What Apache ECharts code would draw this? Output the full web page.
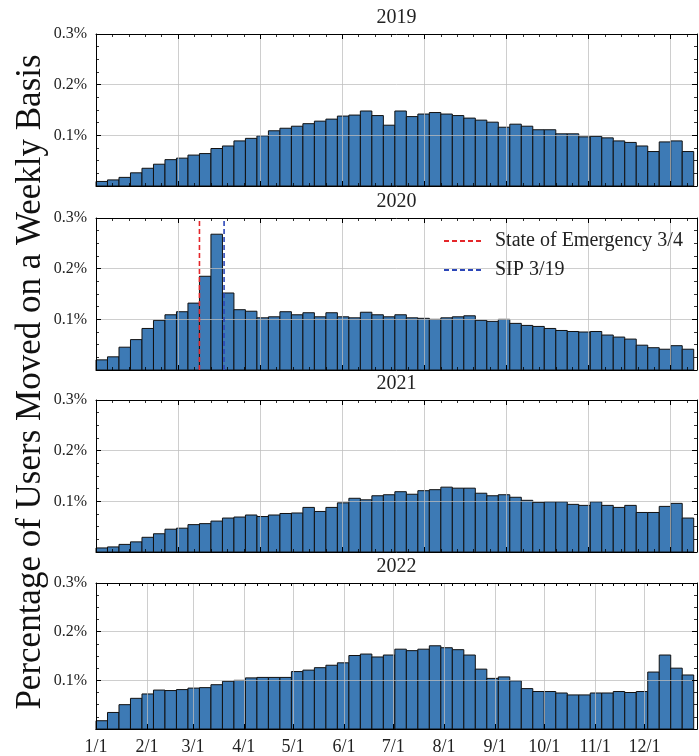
<!DOCTYPE html>
<html>
<head>
<meta charset="utf-8">
<script src="https://cdn.jsdelivr.net/npm/echarts@6/dist/echarts.min.js"></script>
<style>
  html, body { margin: 0; padding: 0; background: #ffffff; }
  #chart { width: 699px; height: 756px; }
</style>
</head>
<body>
<div id="chart"></div>
<script>
// Weekly share of users who moved (%), one bar per week starting Jan 1
const years = ['2019', '2020', '2021', '2022'];

const values2019 = [
  0.009, 0.012, 0.017, 0.026, 0.035, 0.043, 0.052, 0.055, 0.061, 0.064,
  0.074, 0.079, 0.089, 0.094, 0.099, 0.109, 0.114, 0.118, 0.123, 0.128,
  0.132, 0.138, 0.140, 0.148, 0.139, 0.120, 0.148, 0.137, 0.142, 0.145,
  0.142, 0.139, 0.134, 0.130, 0.126, 0.116, 0.122, 0.118, 0.111, 0.111,
  0.103, 0.103, 0.097, 0.098, 0.095, 0.089, 0.086, 0.079, 0.068, 0.087,
  0.089, 0.068
];

const values2020 = [
  0.020, 0.026, 0.045, 0.060, 0.082, 0.098, 0.109, 0.115, 0.132, 0.185,
  0.268, 0.152, 0.119, 0.116, 0.103, 0.105, 0.115, 0.109, 0.113, 0.105,
  0.113, 0.105, 0.103, 0.114, 0.109, 0.105, 0.109, 0.103, 0.102, 0.100,
  0.103, 0.105, 0.107, 0.098, 0.096, 0.100, 0.092, 0.088, 0.086, 0.082,
  0.078, 0.076, 0.075, 0.076, 0.069, 0.065, 0.061, 0.049, 0.044, 0.041,
  0.048, 0.041
];

const values2021 = [
  0.008, 0.010, 0.015, 0.020, 0.029, 0.036, 0.045, 0.047, 0.054, 0.056,
  0.061, 0.067, 0.069, 0.073, 0.070, 0.073, 0.076, 0.077, 0.088, 0.080,
  0.088, 0.097, 0.106, 0.103, 0.111, 0.113, 0.119, 0.114, 0.121, 0.123,
  0.128, 0.126, 0.126, 0.116, 0.111, 0.113, 0.108, 0.102, 0.098, 0.099,
  0.099, 0.094, 0.092, 0.099, 0.092, 0.088, 0.092, 0.078, 0.078, 0.090,
  0.096, 0.067
];

const values2022 = [
  0.017, 0.034, 0.050, 0.063, 0.072, 0.080, 0.079, 0.081, 0.084, 0.085,
  0.091, 0.098, 0.100, 0.105, 0.106, 0.106, 0.106, 0.118, 0.121, 0.126,
  0.131, 0.136, 0.151, 0.154, 0.148, 0.152, 0.164, 0.161, 0.164, 0.171,
  0.167, 0.163, 0.152, 0.123, 0.104, 0.107, 0.099, 0.083, 0.077, 0.077,
  0.074, 0.070, 0.070, 0.074, 0.074, 0.077, 0.075, 0.077, 0.117, 0.152,
  0.125, 0.111
];

const yearValues = [values2019, values2020, values2021, values2022];

const yTickValues = [0.1, 0.2, 0.3];
const monthStartDays = [0, 31, 59, 90, 120, 151, 181, 212, 243, 273, 304, 334];
const monthLabels = ['1/1', '2/1', '3/1', '4/1', '5/1', '6/1', '7/1', '8/1', '9/1', '10/1', '11/1', '12/1'];

// 2020 policy events (day of year, Jan 1 = 0)
const eventNames = ['State of Emergency 3/4', 'SIP 3/19'];
const eventDays = [63, 78];

const yAxisTitle = 'Percentage of Users Moved on a Weekly Basis';

// ---- drawing ----
const SERIF = "'Liberation Serif', 'Times New Roman', serif";
const DAYS = 366;
const WEEK = 7;
const Y_MAX = 0.3;
const BAR_FILL = '#3d7ab5';
const GRID_COLOR = 'rgba(190,190,190,0.75)';
const EVENT_COLORS = ['#e4262a', '#2b46b8'];

const plotLeft = 96, plotRight = 2, plotHeight = 152;
const panelTops = [34, 218, 400, 583];

const chart = echarts.init(document.getElementById('chart'), null, { renderer: 'canvas' });

const grids = [], xAxes = [], yAxes = [], series = [], titles = [];

const tickBase = { show: true, inside: true, length: 5, lineStyle: { color: '#000', width: 1 } };
const minorBase = { show: true, length: 3, lineStyle: { color: '#000', width: 0.8 } };
const axisLineBase = { show: true, onZero: false, lineStyle: { color: '#000', width: 1 } };

years.forEach((year, p) => {
  const top = panelTops[p];
  grids.push({ left: plotLeft, right: plotRight, top: top, height: plotHeight, containLabel: false,
               show: false });
  titles.push({
    text: year, left: plotLeft + (699 - plotLeft - plotRight) / 2, top: top - 26,
    textAlign: 'center', padding: 0,
    textStyle: { fontFamily: SERIF, fontSize: 20, fontWeight: 'normal', color: '#222' }
  });

  const isLast = p === years.length - 1;

  // value x axis carrying the bars
  const xBottomIdx = xAxes.length;
  xAxes.push({
    type: 'value', gridIndex: p, position: 'bottom', min: 0, max: DAYS, interval: 50,
    z: 3,
    axisLine: axisLineBase,
    axisTick: isLast ? { show: false } : tickBase,
    minorTick: isLast ? { show: false } : Object.assign({ splitNumber: 5 }, minorBase),
    axisLabel: { show: false },
    splitLine: { show: !isLast, lineStyle: { color: GRID_COLOR, width: 1 } }
  });
  if (!isLast) {
    xAxes.push({
      type: 'value', gridIndex: p, position: 'top', min: 0, max: DAYS, interval: 50,
      z: 3,
      axisLine: axisLineBase,
      axisTick: tickBase,
      minorTick: Object.assign({ splitNumber: 5 }, minorBase),
      axisLabel: { show: false },
      splitLine: { show: false }
    });
  } else {
    const dayCats = [];
    for (let d = 0; d <= DAYS; d++) dayCats.push(String(d));
    const isMonth = (idx) => monthStartDays.indexOf(idx) !== -1;
    xAxes.push({
      type: 'category', gridIndex: p, position: 'bottom', data: dayCats, boundaryGap: false,
      z: 3,
      axisLine: axisLineBase,
      axisTick: Object.assign({}, tickBase, { interval: isMonth }),
      axisLabel: {
        show: true, interval: isMonth, margin: 9,
        formatter: (val) => monthLabels[monthStartDays.indexOf(Number(val))] || '',
        fontFamily: SERIF, fontSize: 18, color: '#222'
      },
      splitLine: { show: true, interval: isMonth, lineStyle: { color: GRID_COLOR, width: 1 } }
    });
    xAxes.push({
      type: 'category', gridIndex: p, position: 'top', data: dayCats, boundaryGap: false,
      z: 3,
      axisLine: axisLineBase,
      axisTick: Object.assign({}, tickBase, { interval: (idx) => idx % 7 === 0, length: 3 }),
      axisLabel: { show: false },
      splitLine: { show: false }
    });
  }

  const yLeftIdx = yAxes.length;
  yAxes.push({
    type: 'value', gridIndex: p, position: 'left', min: 0, max: Y_MAX, interval: 0.1,
    z: 3,
    axisLine: axisLineBase,
    axisTick: tickBase,
    minorTick: Object.assign({ splitNumber: 4 }, minorBase),
    axisLabel: {
      show: true, margin: 9,
      formatter: (v) => (yTickValues.some(t => Math.abs(t - v) < 1e-9) ? v.toFixed(1) + '%' : ''),
      fontFamily: SERIF, fontSize: 16, color: '#222'
    },
    splitLine: { show: true, lineStyle: { color: GRID_COLOR, width: 1 } }
  });
  yAxes.push({
    type: 'value', gridIndex: p, position: 'right', min: 0, max: Y_MAX, interval: 0.1,
    z: 3,
    axisLine: axisLineBase,
    axisTick: tickBase,
    minorTick: Object.assign({ splitNumber: 4 }, minorBase),
    axisLabel: { show: false },
    splitLine: { show: false }
  });

  const weekly = yearValues[p].map((v, i) => [i * WEEK, v]);
  series.push({
    type: 'custom', name: year + ' weekly', xAxisIndex: xBottomIdx, yAxisIndex: yLeftIdx,
    encode: { x: 0, y: 1 }, z: 2,
    data: weekly,
    renderItem: (params, api) => {
      const start = api.value(0), v = api.value(1);
      const p0 = api.coord([start, 0]);
      const p1 = api.coord([start + WEEK, v]);
      return {
        type: 'rect',
        shape: { x: p0[0], y: p1[1], width: p1[0] - p0[0], height: p0[1] - p1[1] },
        style: { fill: BAR_FILL, stroke: '#111', lineWidth: 1 }
      };
    }
  });

  if (year === '2020') {
    eventNames.forEach((name, k) => {
      series.push({
        type: 'line', name: name, xAxisIndex: xBottomIdx, yAxisIndex: yLeftIdx,
        z: 4, symbol: 'none', silent: true,
        data: [[eventDays[k], 0], [eventDays[k], Y_MAX]],
        lineStyle: { color: EVENT_COLORS[k], width: 1.6, type: [5, 3] },
        itemStyle: { color: EVENT_COLORS[k] }
      });
    });
  }
});

chart.setOption({
  animation: false,
  backgroundColor: '#ffffff',
  title: titles,
  grid: grids,
  xAxis: xAxes,
  yAxis: yAxes,
  series: series,
  legend: {
    data: eventNames, orient: 'vertical', left: 443, top: 231, padding: 0,
    itemWidth: 37, itemHeight: 14, itemGap: 9,
    itemStyle: { opacity: 0 },
    textStyle: { fontFamily: SERIF, fontSize: 20, color: '#222', padding: [0, 0, 0, 9] }
  },
  graphic: [{
    type: 'text', x: 31, y: 382, rotation: Math.PI / 2,
    style: {
      text: yAxisTitle, fill: '#111',
      font: "35px 'Liberation Serif', 'Times New Roman', serif",
      align: 'center', verticalAlign: 'middle',
      textAlign: 'center', textVerticalAlign: 'middle'
    }
  }]
});
</script>
</body>
</html>
